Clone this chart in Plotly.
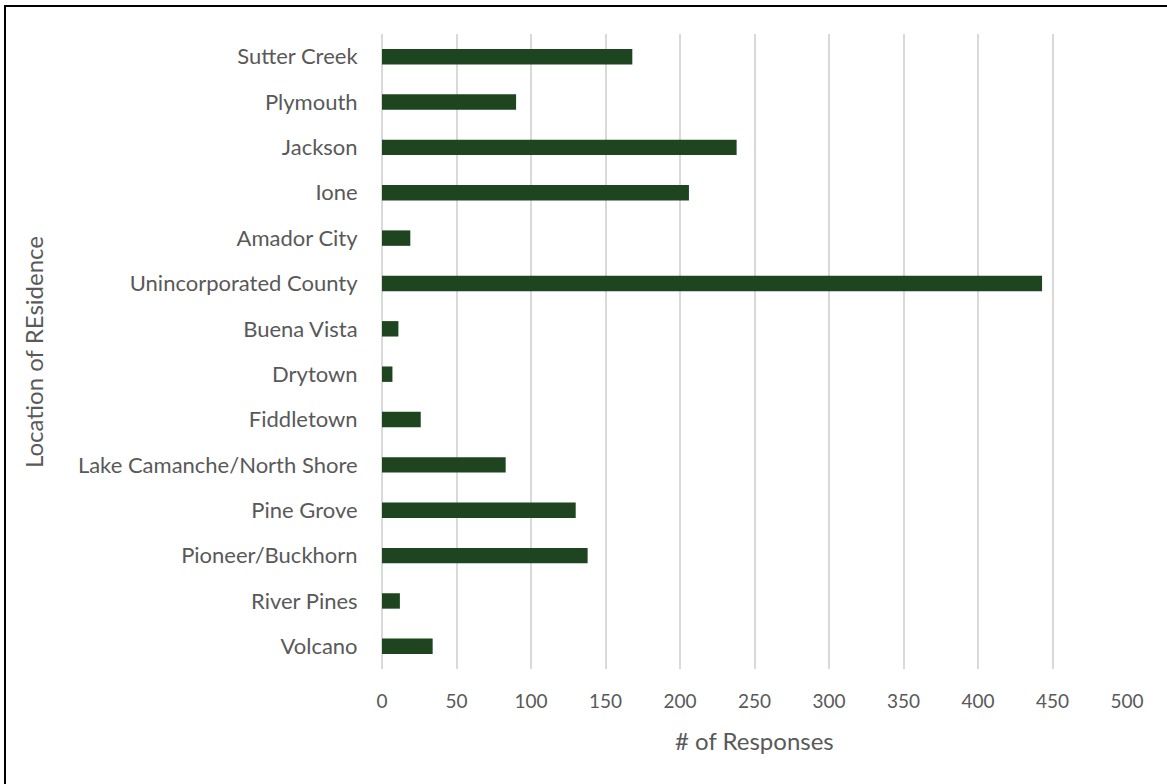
import plotly.graph_objects as go

locations = ["Sutter Creek", "Plymouth", "Jackson", "Ione", "Amador City",
             "Unincorporated County", "Buena Vista", "Drytown", "Fiddletown",
             "Lake Camanche/North Shore", "Pine Grove", "Pioneer/Buckhorn",
             "River Pines", "Volcano"]
responses = [168, 90, 238, 206, 19, 443, 11, 7, 26, 83, 130, 138, 12, 34]
x_ticks = [0, 50, 100, 150, 200, 250, 300, 350, 400, 450, 500]

font_family = "Lato, 'Open Sans', sans-serif"
txt = "#595959"

W, H = 1167, 784
L, R, T, B = 382, 40, 34, 115
PW, PH = W - L - R, H - T - B

fig = go.Figure(go.Bar(
    x=responses, y=locations, orientation="h",
    marker=dict(color="#1E4420", line=dict(color="#1E4420", width=0)),
))

fig.update_layout(
    width=W, height=H,
    margin=dict(l=L, r=R, t=T, b=B, autoexpand=False),
    paper_bgcolor="white", plot_bgcolor="white",
    bargap=0.66,
    showlegend=False,
    font=dict(family=font_family, size=20, color=txt),
    xaxis=dict(
        range=[0, 500], tickvals=x_ticks, showgrid=True,
        gridcolor="#D9D9D9", gridwidth=1.5,
        zeroline=True, zerolinecolor="#D9D9D9", zerolinewidth=1.5,
        ticks="outside", ticklen=15, tickcolor="rgba(0,0,0,0)",
        tickfont=dict(size=19, color=txt),
        showline=False, fixedrange=True,
    ),
    yaxis=dict(
        categoryorder="array", categoryarray=locations,
        autorange="reversed",
        showgrid=False, showline=False,
        ticks="outside", ticklen=19, tickcolor="rgba(0,0,0,0)",
        tickfont=dict(size=22, color=txt),
    ),
    annotations=[
        dict(text="# of Responses", xref="paper", yref="paper",
             x=(754 - L) / PW, y=(H - B - 740) / PH, xanchor="center", yanchor="middle",
             showarrow=False, font=dict(size=24, color=txt)),
        dict(text="Location of REsidence", xref="paper", yref="paper",
             x=(33 - L) / PW, y=(H - B - 352) / PH, xanchor="center", yanchor="middle",
             textangle=-90, showarrow=False, font=dict(size=24, color=txt)),
    ],
    shapes=[dict(type="rect", xref="paper", yref="paper",
                 x0=(5 - L) / PW, x1=(1172 - L) / PW,
                 y0=(H - B - 790) / PH, y1=(H - B - 6) / PH,
                 line=dict(color="black", width=2), fillcolor="rgba(0,0,0,0)",
                 layer="below")],
)

fig.write_html("out.html", config={"displayModeBar": False},
               post_script="document.body.style.margin='0px';document.body.style.overflow='hidden';")
